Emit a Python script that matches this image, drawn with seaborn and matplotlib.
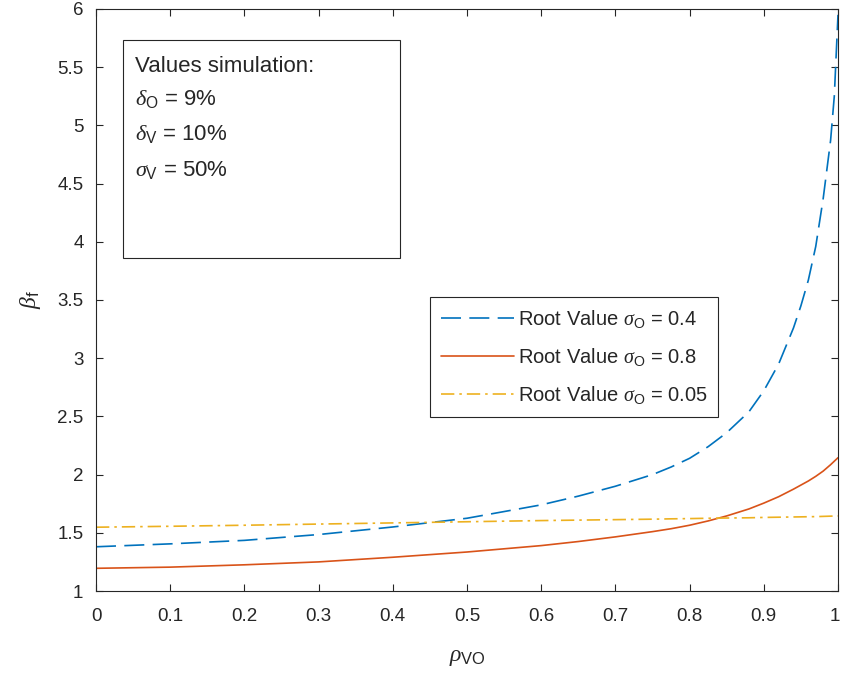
import numpy as np
import pandas as pd
import matplotlib
matplotlib.use("Agg")
import matplotlib.pyplot as plt
import matplotlib.transforms as mtrans
import seaborn as sns
from matplotlib.patches import Rectangle

# ---- data ----
rho = [0.0, 0.1, 0.2, 0.3, 0.4, 0.5, 0.6, 0.65, 0.7, 0.75, 0.775, 0.8, 0.825,
       0.85, 0.88, 0.9, 0.92, 0.94, 0.95, 0.96, 0.97, 0.98, 0.99, 0.995, 1.0]
beta_sigma04 = [1.38, 1.405, 1.435, 1.485, 1.55, 1.625, 1.74, 1.815, 1.90, 2.00,
                2.065, 2.14, 2.24, 2.36, 2.54, 2.72, 2.95, 3.26, 3.45, 3.67,
                3.96, 4.37, 4.87, 5.25, 5.95]
beta_sigma08 = [1.195, 1.205, 1.225, 1.25, 1.29, 1.335, 1.39, 1.425, 1.465, 1.51,
                1.535, 1.565, 1.602, 1.645, 1.705, 1.755, 1.81, 1.875, 1.91,
                1.945, 1.985, 2.03, 2.085, 2.115, 2.145]
beta_sigma005 = [1.548, 1.556, 1.565, 1.575, 1.585, 1.595, 1.605, 1.609, 1.613,
                 1.617, 1.620, 1.622, 1.625, 1.627, 1.629, 1.632, 1.634, 1.636,
                 1.637, 1.638, 1.639, 1.641, 1.643, 1.644, 1.645]
labels = [r"Root Value $\sigma_{\mathrm{O}}$ = 0.4",
          r"Root Value $\sigma_{\mathrm{O}}$ = 0.8",
          r"Root Value $\sigma_{\mathrm{O}}$ = 0.05"]
xticks = [0, 0.1, 0.2, 0.3, 0.4, 0.5, 0.6, 0.7, 0.8, 0.9, 1]
xticklabels = ["0", "0.1", "0.2", "0.3", "0.4", "0.5", "0.6", "0.7", "0.8", "0.9", "1"]
yticks = [1, 1.5, 2, 2.5, 3, 3.5, 4, 4.5, 5, 5.5, 6]
yticklabels = ["1", "1.5", "2", "2.5", "3", "3.5", "4", "4.5", "5", "5.5", "6"]
info_lines = ["Values simulation:",
              r"$\delta_{\mathrm{O}}$ = 9%",
              r"$\delta_{\mathrm{V}}$ = 10%",
              r"$\sigma_{\mathrm{V}}$ = 50%"]

sns.set_style("ticks")
plt.rcParams["font.family"] = ["Liberation Sans", "DejaVu Sans"]
plt.rcParams["mathtext.fontset"] = "custom"
plt.rcParams["mathtext.rm"] = "Liberation Sans"
plt.rcParams["mathtext.it"] = "Liberation Serif:italic"
plt.rcParams["mathtext.bf"] = "Liberation Sans:bold"

edge = "#262626"
fig = plt.figure(figsize=(8.41, 6.77), dpi=100)
ax = fig.add_axes([96 / 841, 86 / 677, 742 / 841, 582 / 677])

colors = ["#0072BD", "#D95319", "#EDB120"]
styles = [(0, (12, 5)), "-", (0, (8, 3, 1.5, 3))]
series = [beta_sigma04, beta_sigma08, beta_sigma005]
for vals, c, ls, lab in zip(series, colors, styles, labels):
    sns.lineplot(x=rho, y=vals, ax=ax, color=c, linestyle=ls, lw=1.2, label=lab)

ax.set_xlim(0, 1)
ax.set_ylim(1, 6)
ax.set_xticks(xticks)
ax.set_xticklabels(xticklabels)
ax.set_yticks(yticks)
ax.set_yticklabels(yticklabels)
ax.tick_params(direction="in", length=5, width=0.8, color=edge, labelcolor=edge,
               labelsize=13.5, top=True, right=True)
ax.tick_params(axis="x", pad=12)
ax.tick_params(axis="y", pad=9)
for s in ax.spines.values():
    s.set_visible(True)
    s.set_color(edge)
    s.set_linewidth(0.8)

# keep the last x tick label inside the figure
last = ax.get_xticklabels()[-1]
last.set_transform(last.get_transform() +
                   mtrans.ScaledTranslation(-3 / 100, 0, fig.dpi_scale_trans))

ax.set_xlabel(r"$\rho_{\mathrm{VO}}$", fontsize=17, color=edge, labelpad=15)
ax.set_ylabel(r"$\beta_{\mathrm{f}}$", fontsize=17, color=edge, labelpad=10)

leg = ax.legend(loc="upper left", bbox_to_anchor=((430 - 96) / 742, (591 - 297) / 582),
                fontsize=14.5, frameon=True, fancybox=False, framealpha=1,
                edgecolor=edge, handlelength=3.6, handletextpad=0.2,
                labelspacing=0.8, borderpad=0.55, borderaxespad=0)
leg.get_frame().set_linewidth(0.8)
for t in leg.get_texts():
    t.set_color(edge)

# annotation box
x0 = (123 - 96) / 742
y0 = (591 - 258) / 582
w = (400 - 123) / 742
h = (258 - 40) / 582
ax.add_patch(Rectangle((x0, y0), w, h, transform=ax.transAxes, fill=True,
                       facecolor="white", edgecolor=edge, lw=0.8, zorder=5))
ypix = [66, 99, 134, 170]
for txt, yp in zip(info_lines, ypix):
    ax.text((135 - 96) / 742, (591 - yp) / 582, txt, transform=ax.transAxes,
            fontsize=16, color=edge, va="center", ha="left", zorder=6)

fig.savefig("out.png", dpi=100)
